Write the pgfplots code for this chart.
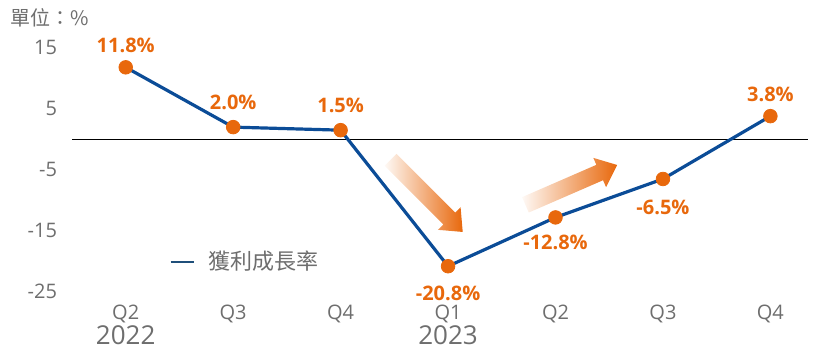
\documentclass[border=0pt]{standalone}
\usepackage{fontspec}
\setmainfont{Open Sans}
\newfontfamily\cjk{Noto Sans CJK TC}
\usepackage{pgfplots}
\pgfplotsset{compat=1.18}
\definecolor{lineblue}{HTML}{0B4C97}
\definecolor{legblue}{HTML}{1F4F7A}
\definecolor{dotorange}{HTML}{E8680C}
\definecolor{labgray}{HTML}{6E6E6E}
\newcommand{\garrow}[3]{%
  \begin{scope}[shift={(#1)}, rotate=#2]
    \shade[left color=dotorange!4, right color=dotorange]
      (0pt,-4.2pt) -- (#3pt-9.5pt,-4.2pt) -- (#3pt-9.5pt,-8pt) -- (#3pt,0pt)
      -- (#3pt-9.5pt,8pt) -- (#3pt-9.5pt,4.2pt) -- (0pt,4.2pt) -- cycle;
  \end{scope}}
\begin{document}
\begin{tikzpicture}[x=1pt,y=1pt]
\path[use as bounding box] (0,0) rectangle (420,177);
\node[anchor=west, text=labgray, inner sep=0pt] at (5,168) {\cjk\fontsize{10}{10}\selectfont 單位：\%};
\begin{axis}[
  at={(36pt,26.5pt)}, anchor=south west,
  width=368pt, height=135.75pt, scale only axis,
  xmin=-0.5, xmax=6.35, ymin=-26.5, ymax=18,
  axis line style={draw=none},
  major tick length=0pt,
  xtick={0,...,6},
  xticklabels={{Q2\\[0.5pt]{\fontsize{13}{13}\selectfont 2022}},Q3,Q4,{Q1\\[0.5pt]{\fontsize{13}{13}\selectfont 2023}},Q2,Q3,Q4},
  xticklabel style={align=center, text=labgray, font=\fontsize{10}{12}\selectfont, anchor=north, yshift=1.5pt},
  ytick={-25,-15,-5,5,15},
  yticklabel style={text=labgray, font=\fontsize{10}{12}\selectfont, xshift=-4pt},
  /pgf/number format/assume math mode=true,
  clip=false,
  legend style={at={(0.124,0.144)}, anchor=west, draw=none, fill=none,
    font=\cjk\fontsize{11}{11}\selectfont, text=labgray},
  legend image code/.code={\draw[legblue, line width=1pt] (0pt,0pt) -- (11.5pt,0pt); \path (16pt,0pt);},
]
\addplot[black, line width=0.5pt, forget plot] coordinates {(-0.5,0) (6.35,0)};
\addplot[lineblue, line width=1.6pt] coordinates {
  (0,11.8) (1,2.0) (2,1.5) (3,-20.8) (4,-12.8) (5,-6.5) (6,3.8)};
\addlegendentry{獲利成長率}
\addplot[only marks, mark=*, mark size=3.4pt, mark options={fill=dotorange, draw=dotorange}, forget plot] coordinates {
  (0,11.8) (1,2.0) (2,1.5) (3,-20.8) (4,-12.8) (5,-6.5) (6,3.8)};
\begin{scope}[every node/.style={font=\bfseries\fontsize{10}{12}\selectfont, text=dotorange}]
\node at (axis cs:0,11.8) [yshift=11pt] {11.8\%};
\node at (axis cs:1,2.0) [yshift=12.5pt] {2.0\%};
\node at (axis cs:2,1.5) [yshift=12.5pt] {1.5\%};
\node at (axis cs:3,-20.8) [yshift=-13.5pt] {-20.8\%};
\node at (axis cs:4,-12.8) [yshift=-12.5pt] {-12.8\%};
\node at (axis cs:5,-6.5) [yshift=-14pt] {-6.5\%};
\node at (axis cs:6,3.8) [yshift=11pt] {3.8\%};
\end{scope}
\coordinate (a1) at (axis cs:2.465,-3.36);
\coordinate (a2) at (axis cs:3.72,-10.74);
\end{axis}
\garrow{a1}{-45}{51}
\garrow{a2}{23.5}{50}
\end{tikzpicture}
\end{document}
